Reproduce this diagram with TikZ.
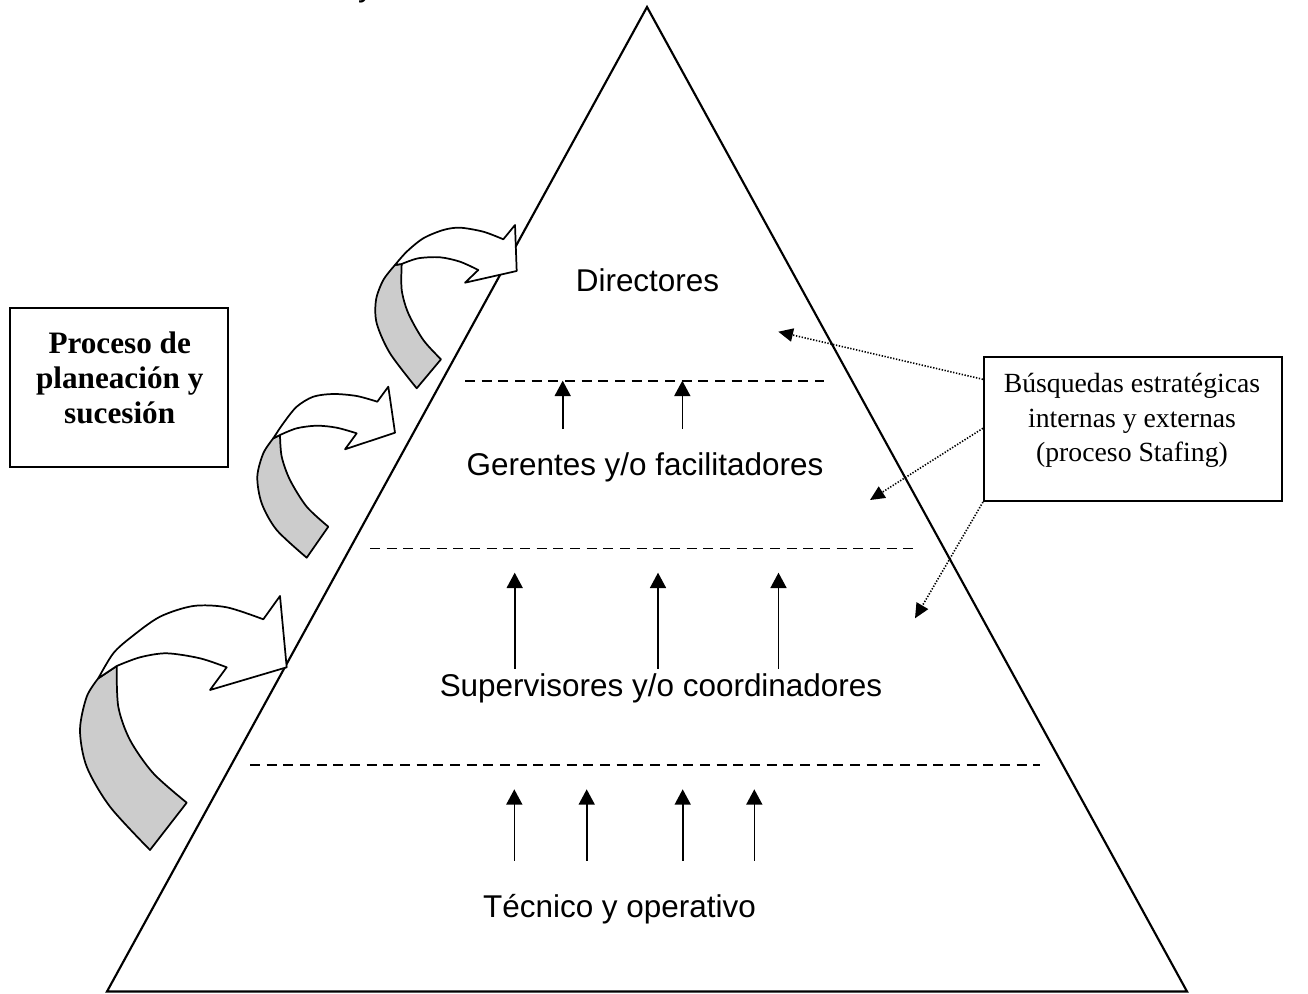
\documentclass[tikz,border=0pt]{standalone}
\usepackage{fontspec}
\setmainfont{Liberation Serif}
\newfontfamily\arialf{Liberation Sans}
\usetikzlibrary{arrows.meta,calc}
\begin{document}
\begin{tikzpicture}[x=0.75pt,y=-0.75pt,
  lvl/.style={font=\arialf\fontsize{23.6}{28}\selectfont, inner sep=0pt, anchor=base},
  pyr/.style={line width=1.6pt, line join=miter},
  sep/.style={line width=1.2pt, dash pattern=on 7.5pt off 5pt},
  uparrow/.style={line width=1.2pt, -{Triangle[length=11.5pt,width=12pt]}},
  dotarrow/.style={line width=1.2pt, dash pattern=on 1pt off 1.2pt, -{Triangle[length=11pt,width=10pt]}},
  bendband/.style={line width=1.3pt, fill=white, line join=round},
  backband/.style={line width=1.3pt, fill=black!20, line join=round},
  boxframe/.style={draw, line width=1.6pt, inner sep=0pt},
]
\useasboundingbox (0,0) rectangle (1308,994);

% partial text at top
\node[lvl] (topy) at (366,-3.5) {y};

% pyramid
\coordinate (apex) at (647,7);
\coordinate (bl) at (107,991.5);
\coordinate (br) at (1187,991.5);
\draw[pyr] (apex) -- (br) -- (bl) -- cycle;

% separators
\coordinate (s1a) at (465,380.7); \coordinate (s1b) at (824,380.7);
\coordinate (s2a) at (370,548.3); \coordinate (s2b) at (918,548.3);
\coordinate (s3a) at (250,765);   \coordinate (s3b) at (1040,765);
\draw[sep] (s1a) -- (s1b);
\draw[sep] (s2a) -- (s2b);
\draw[sep] (s3a) -- (s3b);

% upward arrows
\foreach \i/\x in {1/562.7,2/682.3}{
  \coordinate (ga\i) at (\x,429); \coordinate (gb\i) at (\x,380.7);
  \draw[uparrow] (ga\i) -- (gb\i);}
\foreach \i/\x in {1/514.7,2/658,3/778.5}{
  \coordinate (sa\i) at (\x,668.5); \coordinate (sb\i) at (\x,572.7);
  \draw[uparrow] (sa\i) -- (sb\i);}
\foreach \i/\x in {1/514.3,2/586.7,3/682.7,4/754.3}{
  \coordinate (ta\i) at (\x,860.7); \coordinate (tb\i) at (\x,789.3);
  \draw[uparrow] (ta\i) -- (tb\i);}

% level labels
\node[lvl] (dir) at (647.5,291.7) {Directores};
\node[lvl] (ger) at (645,475) {Gerentes y/o facilitadores};
\node[lvl] (sup) at (661,696.7) {Supervisores y/o coordinadores};
\node[lvl] (tec) at (619.5,917.3) {Técnico y operativo};

% curved arrow 1 (top)
\filldraw[backband] plot[smooth] coordinates {(395,265) (383.3,280) (376,300) (376.7,323.3) (390,353.3) (416.7,388.3)}
  -- plot[smooth] coordinates {(441,359.3) (423.3,340) (408.3,313.3) (401.7,290) (401.7,264)} -- cycle;
\filldraw[bendband] plot[smooth] coordinates {(395,265) (406.7,251.7) (423.3,238.3) (443.3,230) (460,227.7) (483.3,231.7) (503.3,239.3)}
  -- (515,225) -- (516.7,271) -- (465,282.7)
  -- plot[smooth] coordinates {(478.3,270) (460,261.7) (440,257.3) (418.3,258.3) (401.7,264)} -- cycle;

% curved arrow 2 (middle)
\filldraw[backband] plot[smooth] coordinates {(273.3,438.3) (263.3,453.3) (257.3,476.7) (261.7,503.3) (276.7,530) (306.7,557.7)}
  -- plot[smooth] coordinates {(328.3,526.7) (306.7,506.7) (290,480) (281.7,456.7) (280,435)} -- cycle;
\filldraw[bendband] plot[smooth] coordinates {(273.3,438.3) (283.3,423.3) (296.7,406.7) (313.3,396.7) (333.3,394) (356.7,396) (377.3,401.7)}
  -- (388.3,386.7) -- (395,432.7) -- (345,449.3)
  -- plot[smooth] coordinates {(356.7,433.3) (336.7,427.7) (316.7,425.7) (296.7,428.3) (280,435)} -- cycle;

% curved arrow 3 (bottom)
\filldraw[backband] plot[smooth] coordinates {(98.3,678.3) (86.7,696.7) (80,730) (86.7,766.7) (110,806.7) (150,850)}
  -- plot[smooth] coordinates {(186.7,802.7) (153.3,773.3) (130,740) (118.3,706.7) (116.7,666)} -- cycle;
\filldraw[bendband] plot[smooth] coordinates {(98.3,678.3) (113.3,653.3) (131.7,636.7) (160,616.7) (193.3,606) (226.7,607.3) (263.3,619.3)}
  -- (280,596) -- (286.7,667.3) -- (210,690)
  -- plot[smooth] coordinates {(226.7,667.3) (200,658.3) (166.7,653.3) (140,657.3) (116.7,666)} -- cycle;

% left box
\node[boxframe, minimum width=163.5pt, minimum height=119.25pt] (procbox) at (119,387.5) {};
\node[font=\bfseries\fontsize{23.4}{26.3}\selectfont, align=center, inner sep=0pt, anchor=base] (proc) at (119.7,423.3) {Proceso de\\planeación y\\sucesión};

% right box
\node[boxframe, minimum width=223.5pt, minimum height=108pt] (busq) at (1133,429) {};
\node[font=\fontsize{20.8}{25.8}\selectfont, align=center, inner sep=0pt, anchor=base] (busqtxt) at (1132,461.7) {Búsquedas estratégicas\\internas y externas\\(proceso Stafing)};

% dotted arrows
\coordinate (d1) at (778.3,331.7);
\coordinate (d2) at (870,500);
\coordinate (d3) at (915,618.3);
\draw[dotarrow] ($(busq.north west)!0.16!(busq.south west)$) -- (d1);
\draw[dotarrow] ($(busq.north west)!0.495!(busq.south west)$) -- (d2);
\draw[dotarrow] (busq.south west) -- (d3);
\end{tikzpicture}
\end{document}
